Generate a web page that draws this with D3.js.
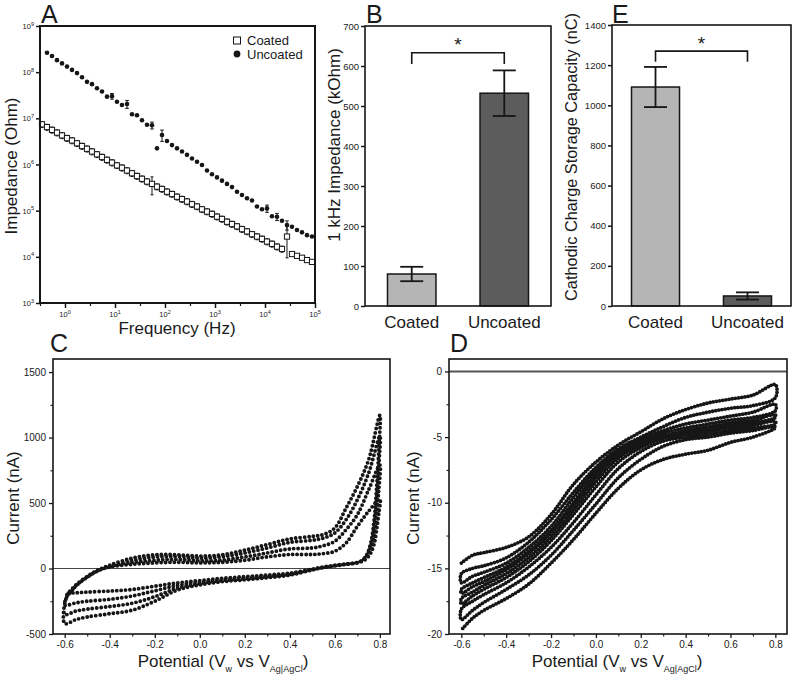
<!DOCTYPE html>
<html><head><meta charset="utf-8">
<script src="https://cdn.jsdelivr.net/npm/d3@7"></script>
<style>
body{margin:0;background:#fff}
text{font-family:"Liberation Sans",Arial,sans-serif;fill:#1a1a1a;white-space:pre}
</style>
</head><body>
<svg id="fig" width="800" height="681"></svg>
<script>
// ---------------- DATA ----------------
// Panel A: impedance spectra
const freq = [0.3467,0.4365,0.5495,0.6918,0.8710,1.096,1.380,1.738,2.188,2.754,3.467,4.365,5.495,6.918,8.710,10.96,13.80,17.38,21.88,27.54,34.67,43.65,54.95,69.18,87.10,109.6,138.0,173.8,218.8,275.4,346.7,436.5,549.5,691.8,871.0,1096,1380,1738,2188,2754,3467,4365,5495,6918,8710,10965,13804,17378,21878,27542,34674,43652,54954,69183,87096];
const coatedZ = [7.41e6,6.46e6,5.62e6,4.90e6,4.27e6,3.72e6,3.31e6,2.88e6,2.51e6,2.19e6,1.91e6,1.66e6,1.45e6,1.26e6,1.10e6,9.55e5,8.51e5,7.41e5,6.46e5,5.62e5,4.90e5,4.27e5,3.80e5,3.31e5,2.95e5,2.57e5,2.29e5,2.00e5,1.78e5,1.58e5,1.38e5,1.23e5,1.07e5,9.55e4,8.51e4,7.41e4,6.61e4,5.75e4,5.13e4,4.57e4,3.98e4,3.55e4,3.09e4,2.75e4,2.45e4,2.14e4,1.91e4,1.66e4,1.48e4,2.75e4,1.15e4,1.05e4,9.55e3,8.51e3,7.76e3];
const coatedErr = [1.1e6,9.7e5,8.4e5,7.4e5,6.4e5,5.6e5,5.0e5,4.3e5,3.8e5,3.3e5,2.9e5,2.5e5,2.2e5,1.9e5,1.7e5,1.4e5,1.3e5,1.1e5,9.7e4,8.4e4,7.4e4,6.4e4,1.6e5,5.0e4,4.4e4,3.9e4,3.4e4,3.0e4,2.7e4,2.4e4,2.1e4,1.8e4,1.6e4,1.4e4,1.3e4,1.1e4,9.9e3,8.6e3,7.7e3,6.9e3,6.0e3,5.3e3,4.6e3,4.1e3,3.7e3,3.2e3,2.9e3,2.5e3,2.2e3,1.8e4,5.8e2,5.3e2,4.8e2,4.3e2,3.9e2];
const uncoatedZ = [null,2.63e8,2.24e8,1.82e8,1.55e8,1.32e8,1.12e8,9.55e7,7.76e7,6.17e7,5.50e7,4.47e7,3.80e7,2.95e7,3.02e7,2.29e7,1.95e7,2.04e7,1.23e7,1.17e7,9.12e6,7.24e6,7.08e6,2.24e6,4.37e6,3.24e6,2.63e6,2.24e6,1.91e6,1.62e6,1.35e6,1.15e6,9.77e5,7.41e5,6.17e5,5.25e5,4.47e5,3.80e5,3.24e5,2.57e5,2.19e5,1.86e5,1.66e5,1.23e5,1.07e5,1.12e5,7.59e4,7.41e4,6.03e4,4.90e4,4.47e4,3.80e4,3.39e4,2.95e4,2.75e4];
const uncoatedErr = [0,0,0,0,0,0,0,0,0,0,0,0,0,0,4.2e6,0,0,4.0e6,0,0,0,0,1.2e6,0,1.2e6,0,0,0,0,0,0,0,0,0,0,0,0,0,0,0,0,0,0,0,0,2.0e4,0,1.3e4,0,1.1e4,0,0,0,0,0];
const aXDomain = [0.3162, 1e5];
const aYDomain = [1e3, 1e9];
const aXTicks = [1,10,100,1000,10000,100000];
const aXMinor = [0.3162,3.162,31.62,316.2,3162,31623];
const aYTicks = [1e3,1e4,1e5,1e6,1e7,1e8,1e9];
const seriesNames = ["Coated","Uncoated"];

// Panel B: 1 kHz impedance (kOhm)
const barCats = ["Coated","Uncoated"];
const bVals = [80, 532];
const bErrs = [18, 57];
const bYTicks = [0,100,200,300,400,500,600,700];
const bBracket = [633, 605];

// Panel E: cathodic charge storage capacity (nC)
const eVals = [1091, 50];
const eErrs = [100, 18];
const eYTicks = [0,200,400,600,800,1000,1200,1400];
const eBracket = [1270, 1217];

// Panel C: CV of coated electrode (4 cycles)
const cFwdV = [-0.59,-0.57,-0.55,-0.5,-0.45,-0.4,-0.3,-0.2,-0.1,0,0.1,0.2,0.3,0.4,0.5,0.55,0.6,0.65,0.7,0.75,0.8];
const cFwd1 = [-200,-160,-125,-60,-10,25,80,105,105,95,105,140,183,226,246,260,310,462,627,830,1170];
const cFwd2 = [-205,-165,-128,-62,-12,20,63,88,92,80,90,119,157,200,216,233,272,373,525,728,1010];
const cFwd3 = [-210,-170,-130,-64,-14,16,48,63,70,60,65,89,119,150,157,175,208,297,411,601,790];
const cFwd4 = [-215,-175,-133,-66,-16,12,32,43,48,43,48,63,89,107,107,114,132,195,322,437,530];
const cRevV = [0.795,0.785,0.775,0.76,0.74,0.72,0.7,0.65,0.6,0.55,0.5,0.4,0.3,0.2,0.1,0,-0.1,-0.2,-0.3,-0.4,-0.5,-0.55,-0.6];
const cRev1 = [900,600,380,200,100,62,45,32,20,8,-10,-50,-70,-86,-100,-125,-165,-250,-318,-345,-370,-390,-420];
const cRev2 = [780,520,330,180,95,60,45,33,22,8,-8,-45,-62,-78,-92,-115,-150,-215,-265,-290,-310,-325,-350];
const cRev3 = [600,400,260,150,85,58,45,34,24,10,-6,-40,-56,-70,-82,-105,-130,-170,-210,-235,-250,-262,-280];
const cRev4 = [420,290,190,120,75,55,43,35,25,12,-4,-35,-50,-62,-75,-92,-110,-135,-160,-172,-180,-185,-190];
const cXDomain = [-0.652, 0.845];
const cYDomain = [-500, 1600];
const cXTicks = [-0.6,-0.4,-0.2,0,0.2,0.4,0.6,0.8];
const cXMinor = [-0.5,-0.3,-0.1,0.1,0.3,0.5,0.7];
const cYTicks = [-500,0,500,1000,1500];
const cYMinor = [-250,250,750,1250];

// Panel D: CV of uncoated electrode (5 cycles, 10 sweeps)
const dV = [-0.6,-0.55,-0.5,-0.4,-0.3,-0.2,-0.1,0,0.1,0.2,0.3,0.4,0.5,0.6,0.7,0.8];
const dSweep1 = [-14.6,-14.0,-13.8,-13.4,-12.6,-10.9,-8.6,-6.9,-5.6,-4.6,-3.6,-2.9,-2.4,-2.1,-1.8,-1.0];
const dSweep2 = [-15.4,-15.0,-14.8,-14.2,-13.0,-11.3,-9.2,-7.3,-5.9,-5.0,-4.2,-3.5,-3.1,-2.8,-2.6,-2.0];
const dSweep3 = [-16.1,-15.6,-15.3,-14.6,-13.4,-11.8,-9.6,-7.6,-6.1,-5.2,-4.5,-4.0,-3.7,-3.4,-3.1,-2.5];
const dSweep4 = [-16.6,-16.1,-15.7,-14.9,-13.7,-12.1,-10.0,-7.8,-6.2,-5.3,-4.7,-4.3,-4.0,-3.7,-3.5,-3.0];
const dSweep5 = [-16.9,-16.4,-16.0,-15.1,-13.9,-12.3,-10.3,-8.1,-6.4,-5.4,-4.9,-4.5,-4.2,-3.9,-3.7,-3.3];
const dSweep6 = [-17.3,-16.8,-16.3,-15.4,-14.2,-12.6,-10.6,-8.4,-6.6,-5.6,-5.0,-4.6,-4.4,-4.1,-3.9,-3.5];
const dSweep7 = [-17.7,-17.1,-16.6,-15.7,-14.5,-12.9,-10.9,-8.8,-6.9,-5.8,-5.1,-4.8,-4.6,-4.3,-4.1,-3.8];
const dSweep8 = [-18.1,-17.5,-17.0,-16.1,-14.9,-13.4,-11.5,-9.4,-7.4,-6.1,-5.3,-5.0,-4.8,-4.5,-4.3,-4.0];
const dSweep9 = [-18.9,-18.2,-17.6,-16.6,-15.5,-14.0,-12.1,-10.1,-8.1,-6.7,-5.7,-5.2,-5.0,-4.7,-4.5,-4.2];
const dSweep10 = [-19.7,-18.8,-18.2,-17.3,-16.2,-14.6,-12.8,-10.8,-8.9,-7.5,-6.7,-6.3,-6.0,-5.4,-5.0,-4.3];
const dXDomain = [-0.655, 0.852];
const dYDomain = [-20, 0.95];
const dYTicks = [-20,-15,-10,-5,0];
const dYMinor = [-17.5,-12.5,-7.5,-2.5];

// ---------------- DRAWING ----------------
const svg = d3.select('#fig');
const ink = '#161616';

function frame(p, sw){
  svg.append('rect').attr('x',p.l).attr('y',p.t).attr('width',p.r-p.l).attr('height',p.b-p.t)
    .attr('fill','none').attr('stroke',ink).attr('stroke-width',sw);
}
function styleAxis(g, sw, fs){
  g.select('.domain').remove();
  g.selectAll('.tick line').attr('stroke',ink).attr('stroke-width',sw);
  g.selectAll('.tick text').attr('fill','#222').style('font-family','"Liberation Sans",Arial,sans-serif').style('font-size',(fs||10)+'px');
  return g;
}
function expLabel(x, y, exp, anchor){
  const t = svg.append('text').attr('x',x).attr('y',y).attr('text-anchor',anchor).style('font-size','7.5px').attr('fill','#222');
  t.append('tspan').text('10');
  t.append('tspan').attr('dy',-3.5).style('font-size','5.5px').text(exp);
}
function letter(x, y, s){
  svg.append('text').attr('x',x).attr('y',y).style('font-size','25px').text(s);
}
function vTitle(x, y, s, fs){
  svg.append('text').attr('transform',`translate(${x},${y}) rotate(-90)`).attr('text-anchor','middle').style('font-size',fs+'px').text(s);
}

// ===== Panel A =====
const pA = {l:40,r:315,t:26,b:303};
const xA = d3.scaleLog().domain(aXDomain).range([pA.l,pA.r]);
const yA = d3.scaleLog().domain(aYDomain).range([pA.b,pA.t]);
styleAxis(svg.append('g').attr('transform',`translate(${pA.l},0)`)
  .call(d3.axisLeft(yA).tickValues(aYTicks).tickSize(4).tickFormat('')),1.5);
styleAxis(svg.append('g').attr('transform',`translate(0,${pA.b})`)
  .call(d3.axisBottom(xA).tickValues(aXTicks).tickSize(5).tickFormat('')),1.5);
styleAxis(svg.append('g').attr('transform',`translate(0,${pA.b})`)
  .call(d3.axisBottom(xA).tickValues(aXMinor).tickSize(3).tickFormat('')),1.2);
aYTicks.forEach(v=>expLabel(pA.l-6, yA(v)+3, Math.round(Math.log10(v)), 'end'));
aXTicks.forEach(v=>expLabel(xA(v), pA.b+14, Math.round(Math.log10(v)), 'middle'));

function errBars(g, zs, es, cap){
  zs.forEach((z,i)=>{
    const e = es[i];
    if(z==null || !e) return;
    const x = xA(freq[i]);
    const y1 = yA(Math.max(z-e, aYDomain[0])), y2 = yA(z+e);
    g.append('line').attr('x1',x).attr('x2',x).attr('y1',y1).attr('y2',y2).attr('stroke',ink).attr('stroke-width',1);
    [y1,y2].forEach(yy=>g.append('line').attr('x1',x-cap).attr('x2',x+cap).attr('y1',yy).attr('y2',yy).attr('stroke',ink).attr('stroke-width',1));
  });
}
const gA = svg.append('g');
errBars(gA, coatedZ, coatedErr, 1.5);
gA.selectAll('rect.co').data(coatedZ.map((z,i)=>[freq[i],z])).enter().append('rect')
  .attr('x',d=>xA(d[0])-2.6).attr('y',d=>yA(d[1])-2.6).attr('width',5.2).attr('height',5.2)
  .attr('fill','#fff').attr('stroke',ink).attr('stroke-width',1);
errBars(gA, uncoatedZ, uncoatedErr, 1.8);
gA.selectAll('circle.un').data(uncoatedZ.map((z,i)=>[freq[i],z]).filter(d=>d[1]!=null)).enter().append('circle')
  .attr('cx',d=>xA(d[0])).attr('cy',d=>yA(d[1])).attr('r',2.3).attr('fill',ink);
frame(pA, 2);
// legend
svg.append('rect').attr('x',233.5).attr('y',37).attr('width',7).attr('height',7).attr('fill','#fff').attr('stroke',ink).attr('stroke-width',1);
svg.append('text').attr('x',247).attr('y',45).style('font-size','13px').text(seriesNames[0]);
svg.append('circle').attr('cx',237).attr('cy',54).attr('r',3.4).attr('fill',ink);
svg.append('text').attr('x',247).attr('y',58.5).style('font-size','13px').text(seriesNames[1]);
svg.append('text').attr('x',177).attr('y',334).attr('text-anchor','middle').style('font-size','17px').text('Frequency (Hz)');
vTitle(17, 166, 'Impedance (Ohm)', 17);
letter(41, 23, 'A');

// ===== Bar panels =====
function barPanel(p, vals, errs, yDomain, yTicks, pInner, pOuter, bracket, title, titleX, titleY, titleFs){
  const x = d3.scaleBand().domain(barCats).range([p.l,p.r]).paddingInner(pInner).paddingOuter(pOuter);
  const y = d3.scaleLinear().domain(yDomain).range([p.b,p.t]);
  styleAxis(svg.append('g').attr('transform',`translate(${p.l},0)`)
    .call(d3.axisLeft(y).tickValues(yTicks).tickSize(4).tickPadding(2).tickFormat(d=>String(d))),1.5,9.5);
  const colors = ['#b5b5b5','#5c5c5c'];
  barCats.forEach((c,i)=>{
    svg.append('rect').attr('x',x(c)).attr('y',y(vals[i])).attr('width',x.bandwidth()).attr('height',y(0)-y(vals[i]))
      .attr('fill',colors[i]).attr('stroke',ink).attr('stroke-width',1.5);
    const cx = x(c)+x.bandwidth()/2;
    const y1 = y(vals[i]-errs[i]), y2 = y(vals[i]+errs[i]);
    svg.append('line').attr('x1',cx).attr('x2',cx).attr('y1',y1).attr('y2',y2).attr('stroke',ink).attr('stroke-width',1.8);
    [y1,y2].forEach(yy=>svg.append('line').attr('x1',cx-11.5).attr('x2',cx+11.5).attr('y1',yy).attr('y2',yy).attr('stroke',ink).attr('stroke-width',1.8));
    svg.append('text').attr('x',cx).attr('y',328).attr('text-anchor','middle').style('font-size','17px').text(c);
  });
  const c0 = x(barCats[0])+x.bandwidth()/2, c1 = x(barCats[1])+x.bandwidth()/2;
  svg.append('path').attr('d',`M${c0},${y(bracket[1])}V${y(bracket[0])}H${c1}V${y(bracket[1])}`)
    .attr('fill','none').attr('stroke',ink).attr('stroke-width',1.6);
  svg.append('text').attr('x',(c0+c1)/2).attr('y',y(bracket[0])-1.5).attr('text-anchor','middle').style('font-size','19px').text('*');
  frame(p, 1.6);
  vTitle(titleX, titleY, title, titleFs);
}
const pB = {l:365,r:551,t:26,b:306};
barPanel(pB, bVals, bErrs, [0,700], bYTicks, 0.476, 0.243, bBracket, '1 kHz Impedance (kOhm)', 340, 145, 17);
letter(366, 23, 'B');
const pE = {l:612,r:791,t:25,b:306};
barPanel(pE, eVals, eErrs, [0,1400], eYTicks, 0.478, 0.212, eBracket, 'Cathodic Charge Storage Capacity (nC)', 577, 157, 16.3);
letter(612, 23, 'E');

// ===== CV panels =====
function potentialTitle(cx){
  const t = svg.append('text').attr('x',cx).attr('y',667).attr('text-anchor','middle').style('font-size','17px');
  t.append('tspan').text('Potential (V');
  t.append('tspan').attr('dy',5).style('font-size','9px').text('w');
  t.append('tspan').attr('dy',-5).text(' vs V');
  t.append('tspan').attr('dy',5).style('font-size','9px').text('Ag|AgCl');
  t.append('tspan').attr('dy',-5).text(')');
}
function cvAxes(p, x, y, yTicks, yMinor, zeroW, zeroC){
  styleAxis(svg.append('g').attr('transform',`translate(0,${p.b})`)
    .call(d3.axisBottom(x).tickValues(cXTicks).tickSize(4).tickPadding(3).tickFormat(d=>d.toFixed(1))),1.3,10);
  styleAxis(svg.append('g').attr('transform',`translate(0,${p.b})`)
    .call(d3.axisBottom(x).tickValues(cXMinor).tickSize(2.5).tickFormat('')),1.1);
  styleAxis(svg.append('g').attr('transform',`translate(${p.l},0)`)
    .call(d3.axisLeft(y).tickValues(yTicks).tickSize(4).tickPadding(3).tickFormat(d=>String(d))),1.3,10);
  styleAxis(svg.append('g').attr('transform',`translate(${p.l},0)`)
    .call(d3.axisLeft(y).tickValues(yMinor).tickSize(2.5).tickFormat('')),1.1);
  svg.append('line').attr('x1',p.l).attr('x2',p.r).attr('y1',y(0)).attr('y2',y(0)).attr('stroke',zeroC).attr('stroke-width',zeroW);
}

// Panel C
const pC = {l:53,r:390,t:359,b:634};
const xC = d3.scaleLinear().domain(cXDomain).range([pC.l,pC.r]);
const yC = d3.scaleLinear().domain(cYDomain).range([pC.b,pC.t]);
cvAxes(pC, xC, yC, cYTicks, cYMinor, 1, '#444');
const cPts = [];
[[cFwd1,cRev1],[cFwd2,cRev2],[cFwd3,cRev3],[cFwd4,cRev4]].forEach(([f,r])=>{
  f.forEach((v,i)=>cPts.push([cFwdV[i],v]));
  r.forEach((v,i)=>cPts.push([cRevV[i],v]));
});
const lineC = d3.line().x(d=>xC(d[0])).y(d=>yC(d[1])).curve(d3.curveCatmullRom.alpha(0.5));
svg.append('path').attr('d',lineC(cPts)).attr('fill','none').attr('stroke',ink)
  .attr('stroke-width',3.9).attr('stroke-linecap','round').attr('stroke-dasharray','0 4.4');
frame(pC, 1.6);
potentialTitle(223);
vTitle(19, 498, 'Current (nA)', 17);
letter(50, 352, 'C');

// Panel D
const pD = {l:449,r:787,t:359,b:634};
const xD = d3.scaleLinear().domain(dXDomain).range([pD.l,pD.r]);
const yD = d3.scaleLinear().domain(dYDomain).range([pD.b,pD.t]);
cvAxes(pD, xD, yD, dYTicks, dYMinor, 2, '#555');
const dPts = [];
[dSweep1,dSweep2,dSweep3,dSweep4,dSweep5,dSweep6,dSweep7,dSweep8,dSweep9,dSweep10].forEach((s,k)=>{
  const pts = s.map((v,i)=>[dV[i],v]);
  if(k%2) pts.reverse();
  pts.forEach(p=>dPts.push(p));
});
const lineD = d3.line().x(d=>xD(d[0])).y(d=>yD(d[1])).curve(d3.curveCatmullRom.alpha(0.5));
svg.append('path').attr('d',lineD(dPts)).attr('fill','none').attr('stroke',ink)
  .attr('stroke-width',3.8).attr('stroke-linecap','round').attr('stroke-dasharray','0 3.2');
frame(pD, 1.6);
potentialTitle(617);
vTitle(419, 498, 'Current (nA)', 17);
letter(450, 352, 'D');
</script>
</body></html>
